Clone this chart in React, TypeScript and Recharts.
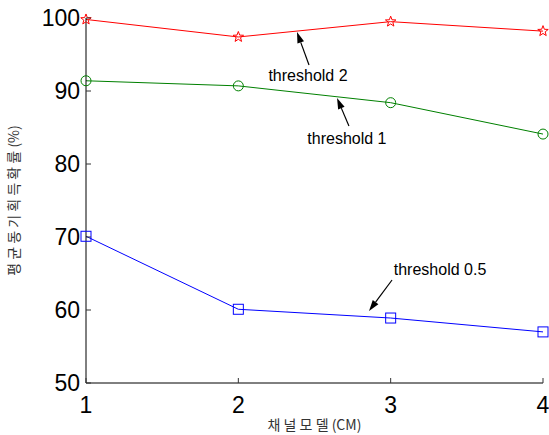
import React from 'react'
import { LineChart, Line, XAxis, YAxis, ReferenceLine } from 'recharts'

const channelModels = [1, 2, 3, 4]
const threshold2 = [99.8, 97.4, 99.5, 98.2]
const threshold1 = [91.4, 90.7, 88.4, 84.1]
const threshold05 = [70.1, 60.1, 58.9, 57.0]
const yTicks = [50, 60, 70, 80, 90, 100]

const annotations = [
  { text: 'threshold 2', tail: { x: 2.464, y: 93.56 }, tip: { x: 2.385, y: 98.08 }, dx: -1, dy: 16 },
  { text: 'threshold 1', tail: { x: 2.726, y: 85.21 }, tip: { x: 2.648, y: 89.04 }, dx: -2, dy: 18 },
  { text: 'threshold 0.5', tail: { x: 3.009, y: 64.11 }, tip: { x: 2.858, y: 59.86 }, dx: 48, dy: -5 },
]

const data = channelModels.map((m, i) => ({
  model: m,
  t2: threshold2[i],
  t1: threshold1[i],
  t05: threshold05[i],
}))

const FONT = 'Liberation Sans, Arial, Helvetica, sans-serif'
const KFONT = '"Noto Sans CJK KR", "Noto Sans", sans-serif'

const Star = (props: any) => {
  const { cx, cy } = props
  if (cx == null || cy == null) return null
  const pts: string[] = []
  for (let k = 0; k < 10; k++) {
    const r = k % 2 === 0 ? 5.5 : 2.3
    const a = -Math.PI / 2 + (k * Math.PI) / 5
    pts.push(`${cx + r * Math.cos(a)},${cy + r * Math.sin(a)}`)
  }
  return <polygon points={pts.join(' ')} fill="none" stroke="#ff0000" strokeWidth={1} />
}

const Circ = (props: any) => {
  const { cx, cy } = props
  if (cx == null || cy == null) return null
  return <circle cx={cx} cy={cy} r={5} fill="none" stroke="#008000" strokeWidth={1} />
}

const Sq = (props: any) => {
  const { cx, cy } = props
  if (cx == null || cy == null) return null
  return <rect x={cx - 5} y={cy - 5} width={10} height={10} fill="none" stroke="#0000ff" strokeWidth={1} />
}

const LeftTick = ({ x, y, payload }: any) => (
  <g>
    <line x1={x} x2={x + 5} y1={y} y2={y} stroke="#333" />
    <text x={x - 6} y={y} textAnchor="end" dominantBaseline="central" fontSize={23} fontFamily={FONT} fill="#000">
      {payload.value}
    </text>
  </g>
)

const RightTick = ({ x, y }: any) => <line x1={x} x2={x - 5} y1={y} y2={y} stroke="#333" />

const BottomTick = ({ x, y, payload }: any) => (
  <g>
    <line x1={x} x2={x} y1={y} y2={y - 5} stroke="#333" />
    <text x={x} y={y + 30} textAnchor="middle" fontSize={23} fontFamily={FONT} fill="#000">
      {payload.value}
    </text>
  </g>
)

const TopTick = ({ x, y }: any) => <line x1={x} x2={x} y1={y} y2={y + 5} stroke="#333" />

const makeArrow = (text: string, dx: number, dy: number) => (props: any) => {
  const { x1, y1, x2, y2 } = props
  const ang = Math.atan2(y2 - y1, x2 - x1)
  const len = 11
  const w = 3.5
  const bx = x2 - len * Math.cos(ang)
  const by = y2 - len * Math.sin(ang)
  const px = -Math.sin(ang) * w
  const py = Math.cos(ang) * w
  return (
    <g>
      <line x1={x1} y1={y1} x2={bx} y2={by} stroke="#000" strokeWidth={1.2} />
      <polygon points={`${x2},${y2} ${bx + px},${by + py} ${bx - px},${by - py}`} fill="#000" />
      <text x={x1 + dx} y={y1 + dy} textAnchor="middle" fontSize={16} fontFamily={FONT} fill="#000">
        {text}
      </text>
    </g>
  )
}

export default function App() {
  return (
    <div style={{ position: 'absolute', left: 0, top: 0, background: '#fff' }}>
      <LineChart width={549} height={435} data={data} margin={{ top: 18, right: 6, bottom: 0, left: 0 }}>
        <XAxis
          dataKey="model"
          type="number"
          domain={[1, 4]}
          ticks={channelModels}
          height={52}
          tickSize={0}
          tickMargin={0}
          tickLine={false}
          axisLine={{ stroke: '#000' }}
          tick={<BottomTick />}
          label={{
            value: '채 널 모 델 (CM)',
            position: 'insideBottom',
            offset: 5,
            fill: '#333',
            fontSize: 14,
            fontFamily: KFONT,
          }}
        />
        <XAxis
          xAxisId="top"
          dataKey="model"
          type="number"
          orientation="top"
          domain={[1, 4]}
          ticks={channelModels}
          height={0}
          tickSize={0}
          tickMargin={0}
          tickLine={false}
          axisLine={{ stroke: '#000' }}
          tick={<TopTick />}
        />
        <YAxis
          type="number"
          domain={[50, 100]}
          ticks={yTicks}
          width={86}
          tickSize={0}
          tickMargin={0}
          tickLine={false}
          axisLine={{ stroke: '#000' }}
          tick={<LeftTick />}
          label={{
            value: '평 균 동 기 획 득 확 률 (%)',
            angle: -90,
            position: 'insideLeft',
            offset: 14,
            fill: '#333',
            fontSize: 14,
            fontFamily: KFONT,
            style: { textAnchor: 'middle' },
          }}
        />
        <YAxis
          yAxisId="right"
          type="number"
          orientation="right"
          domain={[50, 100]}
          ticks={yTicks}
          width={0}
          tickSize={0}
          tickMargin={0}
          tickLine={false}
          axisLine={{ stroke: '#000' }}
          tick={<RightTick />}
        />
        <Line dataKey="t2" stroke="#ff0000" strokeWidth={1} dot={<Star />} isAnimationActive={false} />
        <Line dataKey="t1" stroke="#008000" strokeWidth={1} dot={<Circ />} isAnimationActive={false} />
        <Line dataKey="t05" stroke="#0000ff" strokeWidth={1} dot={<Sq />} isAnimationActive={false} />
        {annotations.map((a) => (
          <ReferenceLine
            key={a.text}
            segment={[a.tail, a.tip]}
            ifOverflow="visible"
            shape={makeArrow(a.text, a.dx, a.dy)}
          />
        ))}
      </LineChart>
    </div>
  )
}
